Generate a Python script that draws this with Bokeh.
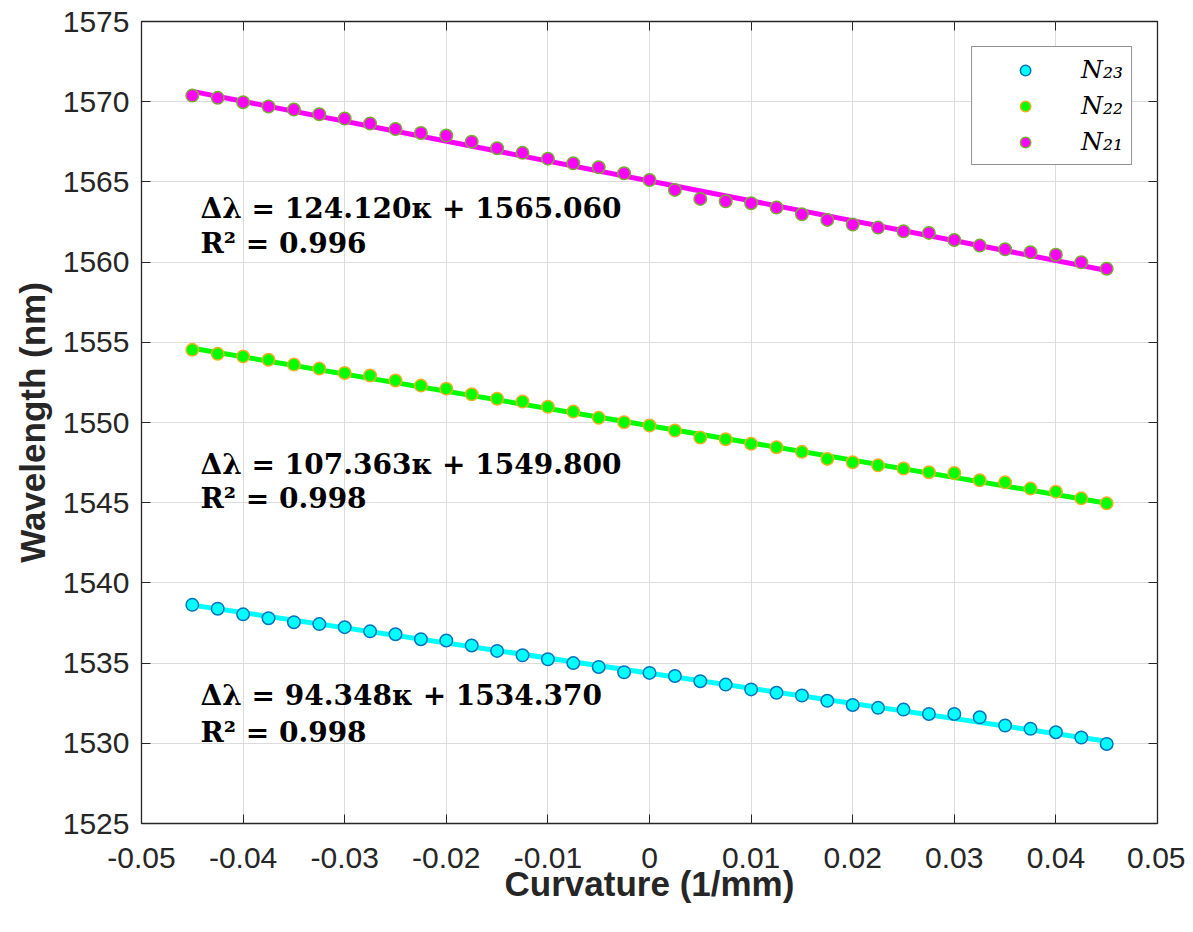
import numpy as np
from bokeh.plotting import figure
from bokeh.models import LinearAxis, FixedTicker, Legend, LegendItem, Label
from bokeh.embed import file_html
from bokeh.resources import INLINE

# ---------------- data ----------------
curvature = [-0.045, -0.0425, -0.04, -0.0375, -0.035, -0.0325, -0.03, -0.0275, -0.025,
             -0.0225, -0.02, -0.0175, -0.015, -0.0125, -0.01, -0.0075, -0.005, -0.0025,
             0.0, 0.0025, 0.005, 0.0075, 0.01, 0.0125, 0.015, 0.0175, 0.02, 0.0225,
             0.025, 0.0275, 0.03, 0.0325, 0.035, 0.0375, 0.04, 0.0425, 0.045]

n21 = [1570.38, 1570.24, 1569.97, 1569.70, 1569.51, 1569.22, 1568.95, 1568.64, 1568.30,
       1568.05, 1567.89, 1567.51, 1567.10, 1566.81, 1566.45, 1566.16, 1565.91, 1565.54,
       1565.12, 1564.50, 1563.94, 1563.79, 1563.67, 1563.40, 1562.98, 1562.63, 1562.34,
       1562.15, 1561.92, 1561.82, 1561.38, 1561.03, 1560.80, 1560.61, 1560.46, 1559.99,
       1559.59]

n22 = [1554.53, 1554.28, 1554.12, 1553.91, 1553.61, 1553.36, 1553.09, 1552.93, 1552.62,
       1552.30, 1552.11, 1551.76, 1551.48, 1551.31, 1550.98, 1550.68, 1550.29, 1550.02,
       1549.81, 1549.50, 1549.06, 1548.96, 1548.67, 1548.46, 1548.17, 1547.73, 1547.52,
       1547.33, 1547.13, 1546.90, 1546.85, 1546.40, 1546.27, 1545.88, 1545.69, 1545.27,
       1544.96]

n23 = [1538.63, 1538.39, 1538.04, 1537.80, 1537.55, 1537.43, 1537.24, 1536.98, 1536.80,
       1536.49, 1536.41, 1536.10, 1535.76, 1535.49, 1535.24, 1535.00, 1534.76, 1534.43,
       1534.39, 1534.20, 1533.87, 1533.66, 1533.36, 1533.15, 1532.98, 1532.65, 1532.39,
       1532.21, 1532.10, 1531.83, 1531.83, 1531.62, 1531.11, 1530.90, 1530.69, 1530.36,
       1529.96]

series_names = ["N₂₃", "N₂₂", "N₂₁"]
fit_slopes = [-94.348, -107.363, -124.120]
fit_intercepts = [1534.370, 1549.800, 1565.060]
eq_texts = ["Δλ = 94.348κ + 1534.370", "Δλ = 107.363κ + 1549.800", "Δλ = 124.120κ + 1565.060"]
r2_texts = ["R² = 0.998", "R² = 0.998", "R² = 0.996"]

x_ticks = [-0.05, -0.04, -0.03, -0.02, -0.01, 0, 0.01, 0.02, 0.03, 0.04, 0.05]
x_tick_labels = ["-0.05", "-0.04", "-0.03", "-0.02", "-0.01", "0",
                 "0.01", "0.02", "0.03", "0.04", "0.05"]
y_ticks = [1525, 1530, 1535, 1540, 1545, 1550, 1555, 1560, 1565, 1570, 1575]

# ---------------- styles ----------------
fill_colors = ["#00FFFF", "#00FF00", "#FF00FF"]
edge_colors = ["#0072BD", "#EDB120", "#77AC30"]
line_colors = ["#00FFFF", "#00FF00", "#FF00FF"]
eq_y = [1532.95, 1547.36, 1563.33]
r2_y = [1530.65, 1545.24, 1561.15]
ann_x = -0.0442
TXT = "#262626"

p = figure(width=1185, height=924, x_range=(-0.05, 0.05), y_range=(1525, 1575),
           output_backend="svg", toolbar_location=None,
           min_border_left=141, min_border_right=28, min_border_top=21, min_border_bottom=101)
p.background_fill_color = "white"
p.border_fill_color = "white"
p.outline_line_color = TXT
p.outline_line_width = 1.3

p.xaxis.ticker = FixedTicker(ticks=x_ticks)
p.yaxis.ticker = FixedTicker(ticks=y_ticks)
p.xaxis.major_label_overrides = {t: l for t, l in zip(x_ticks, x_tick_labels)}
p.xgrid.ticker = FixedTicker(ticks=x_ticks)
p.ygrid.ticker = FixedTicker(ticks=y_ticks)
p.grid.grid_line_color = "#dcdcdc"
p.grid.grid_line_width = 1

for ax in (p.xaxis, p.yaxis):
    ax.major_tick_in = 9
    ax.major_tick_out = 0
    ax.minor_tick_in = 0
    ax.minor_tick_out = 0
    ax.axis_line_color = TXT
    ax.major_tick_line_color = TXT
    ax.major_label_text_font = "Liberation Sans"
    ax.major_label_text_font_size = "30px"
    ax.major_label_text_color = TXT
    ax.axis_label_text_font = "Liberation Sans"
    ax.axis_label_text_font_style = "bold"
    ax.axis_label_text_font_size = "35px"
    ax.axis_label_text_color = TXT

p.xaxis.axis_label = "Curvature (1/mm)"
p.yaxis.axis_label = "Wavelength (nm)"
p.xaxis.major_label_standoff = 24
p.yaxis.major_label_standoff = 12
p.xaxis.axis_label_standoff = -7
p.yaxis.axis_label_standoff = 8

for loc in ("right", "above"):
    ax = LinearAxis(ticker=FixedTicker(ticks=y_ticks if loc == "right" else x_ticks),
                    major_label_text_font_size="1px", major_label_text_color=None,
                    axis_line_color=None,
                    major_tick_in=9, major_tick_out=0, minor_tick_in=0, minor_tick_out=0,
                    major_tick_line_color=TXT, major_label_standoff=0)
    p.add_layout(ax, loc)

series = [n23, n22, n21]
items = []
x_ends = [curvature[0], curvature[-1]]
for i in range(3):
    ys = [fit_slopes[i] * xv + fit_intercepts[i] for xv in x_ends]
    p.line(x_ends, ys, line_color=line_colors[i], line_width=5)
for i in range(3):
    r = p.scatter(curvature, series[i], size=12.5, fill_color=fill_colors[i],
                  line_color=edge_colors[i], line_width=1.5)
    items.append(LegendItem(label=series_names[i], renderers=[r]))
for i in range(3):
    for txt, yy in ((eq_texts[i], eq_y[i]), (r2_texts[i], r2_y[i])):
        p.add_layout(Label(x=ann_x, y=yy, text=txt, text_font="DejaVu Serif",
                           text_font_style="bold", text_font_size="28px",
                           text_color="black", text_baseline="alphabetic"))

legend = Legend(items=items, location="top_right", margin=25, padding=8,
                glyph_width=90, glyph_height=26, label_standoff=11, spacing=7,
                label_text_font="DejaVu Serif", label_text_font_style="italic",
                label_text_font_size="25px", label_text_color="black",
                border_line_color=TXT, border_line_width=1.3,
                background_fill_color="white", background_fill_alpha=1)
p.add_layout(legend, "center")

open("out.html", "w").write(file_html(p, INLINE))
